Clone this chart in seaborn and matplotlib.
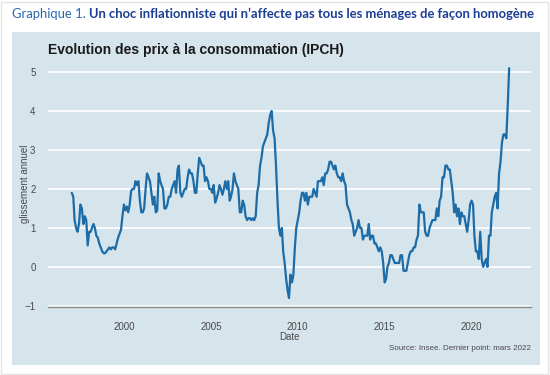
import matplotlib
matplotlib.use("Agg")
import matplotlib.pyplot as plt
import matplotlib.dates as mdates
from matplotlib.patches import Rectangle
import pandas as pd
import seaborn as sns

# glissement annuel de l'IPCH, mensuel, janvier 1997 -> mars 2022
ipch_1997_2001 = [
    1.9, 1.8, 1.2, 1.0, 0.9, 1.1, 1.6, 1.5, 1.1, 1.3, 1.2, 0.55,
    0.9, 0.9, 1.0, 1.1, 1.0, 0.8, 0.75, 0.6, 0.5, 0.4, 0.35, 0.35,
    0.4, 0.45, 0.5, 0.45, 0.5, 0.5, 0.45, 0.6, 0.75, 0.85, 0.95, 1.3,
    1.6, 1.45, 1.55, 1.4, 1.6, 1.95, 2.0, 2.0, 2.2, 2.1, 2.2, 1.7,
    1.4, 1.4, 1.5, 2.0, 2.4, 2.3, 2.2, 1.9, 1.6, 1.8, 1.4, 1.45,
]
ipch_2002_2006 = [
    2.4, 2.2, 2.1, 2.0, 1.5, 1.5, 1.6, 1.8, 1.8, 2.0, 2.1, 2.2,
    1.9, 2.5, 2.6, 1.9, 1.8, 1.9, 2.0, 2.0, 2.3, 2.5, 2.4, 2.4,
    2.2, 1.9, 1.9, 2.4, 2.8, 2.7, 2.6, 2.6, 2.2, 2.3, 2.2, 2.0,
    2.0, 1.9, 2.1, 1.65, 1.75, 1.9, 2.1, 2.0, 1.85, 2.0, 2.2, 2.0,
    2.2, 1.7, 1.8, 2.0, 2.4, 2.2, 2.1, 2.0, 1.4, 1.4, 1.7, 1.6,
]
ipch_2007_2011 = [
    1.3, 1.2, 1.25, 1.25, 1.2, 1.25, 1.2, 1.3, 1.9, 2.1, 2.6, 2.8,
    3.1, 3.2, 3.3, 3.4, 3.7, 3.9, 4.0, 3.5, 3.3, 2.6, 1.7, 1.0,
    0.8, 1.0, 0.4, 0.1, -0.3, -0.6, -0.8, -0.2, -0.4, -0.2, 0.5, 1.0,
    1.2, 1.4, 1.7, 1.9, 1.9, 1.7, 1.9, 1.6, 1.8, 1.8, 1.8, 2.0,
    1.9, 1.8, 2.2, 2.2, 2.2, 2.3, 2.1, 2.4, 2.4, 2.5, 2.7, 2.7,
]
ipch_2012_2016 = [
    2.6, 2.5, 2.6, 2.4, 2.3, 2.3, 2.2, 2.4, 2.2, 2.1, 1.6, 1.5,
    1.4, 1.2, 1.1, 0.8, 0.9, 1.0, 1.2, 1.0, 1.0, 0.7, 0.8, 0.8,
    0.8, 1.1, 0.7, 0.8, 0.8, 0.6, 0.6, 0.5, 0.4, 0.5, 0.4, 0.1,
    -0.4, -0.3, 0.0, 0.1, 0.3, 0.3, 0.2, 0.1, 0.1, 0.1, 0.1, 0.3,
    0.3, -0.1, -0.1, -0.1, 0.1, 0.3, 0.4, 0.4, 0.5, 0.5, 0.7, 0.8,
]
ipch_2017_2022 = [
    1.6, 1.4, 1.4, 1.4, 0.9, 0.8, 0.8, 1.0, 1.1, 1.2, 1.2, 1.2,
    1.5, 1.3, 1.7, 1.8, 2.3, 2.3, 2.6, 2.6, 2.5, 2.5, 2.2, 1.9,
    1.4, 1.6, 1.3, 1.5, 1.1, 1.4, 1.3, 1.3, 1.1, 0.9, 1.2, 1.6,
    1.7, 1.6, 0.8, 0.4, 0.4, 0.2, 0.9, 0.2, 0.0, 0.1, 0.2, 0.0,
    0.8, 0.8, 1.4, 1.6, 1.8, 1.9, 1.5, 2.4, 2.7, 3.2, 3.4, 3.4,
    3.3, 4.2, 5.1,
]

values = ipch_1997_2001 + ipch_2002_2006 + ipch_2007_2011 + ipch_2012_2016 + ipch_2017_2022
dates = pd.date_range("1997-01-01", periods=len(values), freq="MS")
df = pd.DataFrame({"Date": dates, "glissement annuel": values})

W, H = 550, 375
panel_col = "#d6e4eb"
text_col = "#4a4a4a"

sns.set_style("white")
plt.rcParams["font.family"] = ["Liberation Sans", "DejaVu Sans"]

fig = plt.figure(figsize=(W / 100, H / 100), dpi=100)
fig.patch.set_facecolor("white")

# cadre exterieur + panneau bleu, sous les axes
fig.patches.append(Rectangle((1 / W, 1 / H), (W - 3) / W, (H - 3) / H, transform=fig.transFigure,
                             facecolor="none", edgecolor="#e4e4e4", lw=1, zorder=-2))
fig.patches.append(Rectangle((12 / W, 1 - 365 / H), 528 / W, 333 / H, transform=fig.transFigure,
                             facecolor=panel_col, edgecolor="none", zorder=-1))

ax = fig.add_axes([48 / W, 1 - 307 / H, 483 / W, 247 / H])
ax.set_facecolor("none")
ax.set_zorder(1)

sns.lineplot(data=df, x="Date", y="glissement annuel", ax=ax, color="#1c6ca8", lw=1.6)

ax.set_ylim(-1.03, 5.31)
ax.set_xlim(pd.Timestamp("1995-08-20"), pd.Timestamp("2023-06-03"))
ax.set_yticks([-1, 0, 1, 2, 3, 4, 5])
ax.xaxis.set_major_locator(mdates.YearLocator(5))
ax.xaxis.set_major_formatter(mdates.DateFormatter("%Y"))

ax.grid(axis="y", color="white", lw=1.2)
ax.grid(axis="x", visible=False)
ax.set_axisbelow(True)
for s in ["top", "right", "left"]:
    ax.spines[s].set_visible(False)
ax.spines["bottom"].set_color("#8a8a8a")
ax.spines["bottom"].set_linewidth(1.0)

ax.tick_params(axis="y", length=0, pad=9, labelsize=7, labelcolor=text_col)
ax.tick_params(axis="x", length=4, direction="inout", color="#6a6a6a", width=0.8,
               pad=9, labelsize=7, labelcolor=text_col)
ax.set_xlabel("Date", fontsize=7, color=text_col, labelpad=0)
ax.set_ylabel("glissement annuel", fontsize=7, color=text_col)
ax.yaxis.set_label_coords(-18.5 / 483, 0.5)

fig.text(48 / W, 1 - 50 / H, "Evolution des prix à la consommation (IPCH)", fontsize=10,
         fontweight="bold", color="#1a1a1a", va="center", ha="left")
fig.text(531 / W, 1 - 349 / H, "Source: Insee. Dernier point: mars 2022", fontsize=5.8,
         color=text_col, va="center", ha="right")

# titre du graphique en deux morceaux
t1 = fig.text(12 / W, 1 - 14 / H, "Graphique 1. ", fontsize=9.4, family="Lato",
              color="#2a66b0", va="center", ha="left")
renderer = fig.canvas.get_renderer()
bb = t1.get_window_extent(renderer)
fig.text(bb.x1 / W, 1 - 14 / H, "Un choc inflationniste qui n’affecte pas tous les ménages de façon homogène",
         fontsize=9.4, family="Lato", fontweight="bold", color="#1b3e93", va="center", ha="left")

fig.savefig("out.png", dpi=100)
